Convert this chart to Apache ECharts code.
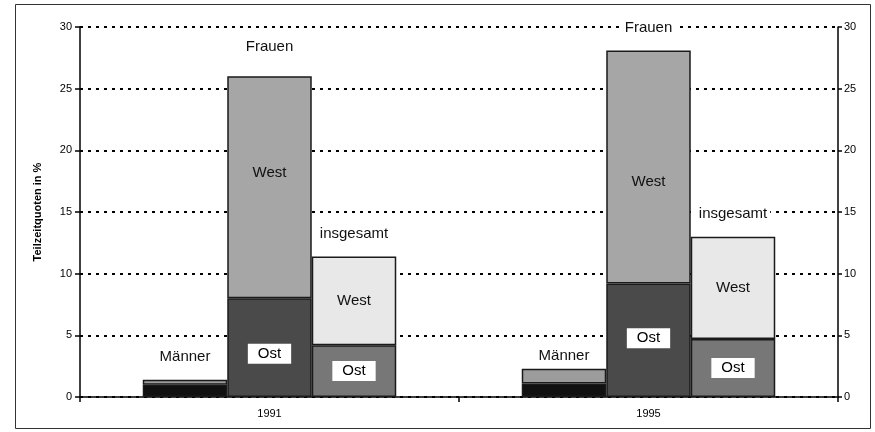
<!DOCTYPE html>
<html>
<head>
<meta charset="utf-8">
<script src="https://cdn.jsdelivr.net/npm/echarts@6/dist/echarts.min.js"></script>
<style>
  html, body { margin: 0; padding: 0; background: #fff; }
  #chart { width: 875px; height: 432px; }
</style>
</head>
<body>
<div id="chart"></div>
<script>
// Jahre auf der x-Achse
const years = ['1991', '1995'];
// Teilzeitquoten in %, Segmenthöhen je Balken
const maennerOst = [1.0, 1.1];
const maennerWest = [0.4, 1.2];
const frauenOst = [8.0, 9.2];
const frauenWest = [18.0, 18.9];
const gesamtOst = [4.2, 4.7];
const gesamtWest = [7.2, 8.3];
const yTicks = [0, 5, 10, 15, 20, 25, 30];

const font = 'Liberation Sans, Arial, sans-serif';
const edge = { borderColor: '#1a1a1a', borderWidth: 1.5 };
const barW = 84.5;

const ostLabel = {
    show: true,
    position: 'inside',
    formatter: 'Ost',
    backgroundColor: '#fff',
    padding: [3, 10, 2, 10],
    color: '#000',
    fontSize: 15,
    fontFamily: font
};
const westLabel = {
    show: true,
    position: 'inside',
    formatter: 'West',
    color: '#111',
    fontSize: 15,
    fontFamily: font
};

// Gruppenname als Beschriftung über dem Balken (Nullserie oben im Stapel)
function groupLabel(stack, name, distances) {
    return {
        name: name,
        type: 'bar',
        stack: stack,
        barWidth: barW,
        data: years.map((y, i) => ({
            value: 0,
            label: { distance: distances[i] }
        })),
        itemStyle: { color: 'transparent', borderWidth: 0 },
        label: {
            show: true,
            position: 'top',
            formatter: name,
            color: '#111',
            fontSize: 15,
            fontFamily: font,
            backgroundColor: '#fff',
            padding: [1, 3]
        },
        silent: true
    };
}

const option = {
    animation: false,
    backgroundColor: '#fff',
    textStyle: { fontFamily: font },
    graphic: [{
        type: 'rect',
        shape: { x: 15.5, y: 4.5, width: 855, height: 424 },
        style: { fill: 'none', stroke: '#333', lineWidth: 1 },
        silent: true
    }],
    grid: { left: 80, right: 37, top: 27, bottom: 35 },
    xAxis: {
        type: 'category',
        data: years,
        axisLine: { lineStyle: { color: '#000', width: 1.5 } },
        axisTick: { show: true, length: 5, lineStyle: { color: '#000', width: 1.5 } },
        axisLabel: { color: '#000', fontSize: 11, margin: 11 }
    },
    yAxis: [{
        type: 'value',
        min: 0,
        max: 30,
        interval: 5,
        name: 'Teilzeitquoten in %',
        nameLocation: 'middle',
        nameGap: 37,
        nameTextStyle: { color: '#000', fontSize: 11, fontWeight: 'bold' },
        axisLine: { show: true, lineStyle: { color: '#000', width: 1.5 } },
        axisTick: { show: true, length: 5, lineStyle: { color: '#000', width: 1.5 } },
        axisLabel: { color: '#000', fontSize: 11, margin: 8,
            formatter: v => yTicks.includes(v) ? String(v) : '' },
        splitLine: { show: true, lineStyle: { color: '#000', width: 2, type: [3, 5] } }
    }, {
        type: 'value',
        min: 0,
        max: 30,
        interval: 5,
        position: 'right',
        axisLine: { show: true, lineStyle: { color: '#000', width: 1.5 } },
        axisTick: { show: true, length: 4, lineStyle: { color: '#000', width: 1.5 } },
        axisLabel: { color: '#000', fontSize: 11, margin: 6 },
        splitLine: { show: false }
    }],
    series: [
        {
            name: 'Männer Ost', type: 'bar', stack: 'm', barWidth: barW, barGap: '0%',
            data: maennerOst, itemStyle: Object.assign({ color: '#111' }, edge)
        },
        {
            name: 'Männer West', type: 'bar', stack: 'm', barWidth: barW,
            data: maennerWest, itemStyle: Object.assign({ color: '#9c9c9c' }, edge)
        },
        groupLabel('m', 'Männer', [14, 4]),
        {
            name: 'Frauen Ost', type: 'bar', stack: 'f', barWidth: barW,
            data: frauenOst.map((v, i) => ({ value: v, label: { offset: [0, i === 0 ? 6 : -2] } })),
            itemStyle: Object.assign({ color: '#4a4a4a' }, edge),
            label: ostLabel
        },
        {
            name: 'Frauen West', type: 'bar', stack: 'f', barWidth: barW,
            data: frauenWest.map((v, i) => ({ value: v, label: { offset: [0, i === 0 ? -14 : 15] } })),
            itemStyle: Object.assign({ color: '#a6a6a6' }, edge),
            label: westLabel
        },
        groupLabel('f', 'Frauen', [21, 14]),
        {
            name: 'insgesamt Ost', type: 'bar', stack: 'i', barWidth: barW,
            data: gesamtOst, itemStyle: Object.assign({ color: '#777' }, edge),
            label: ostLabel
        },
        {
            name: 'insgesamt West', type: 'bar', stack: 'i', barWidth: barW,
            data: gesamtWest, itemStyle: Object.assign({ color: '#e8e8e8' }, edge),
            label: westLabel
        },
        groupLabel('i', 'insgesamt', [14, 14])
    ]
};

const chart = echarts.init(document.getElementById('chart'));
chart.setOption(option);
</script>
</body>
</html>
